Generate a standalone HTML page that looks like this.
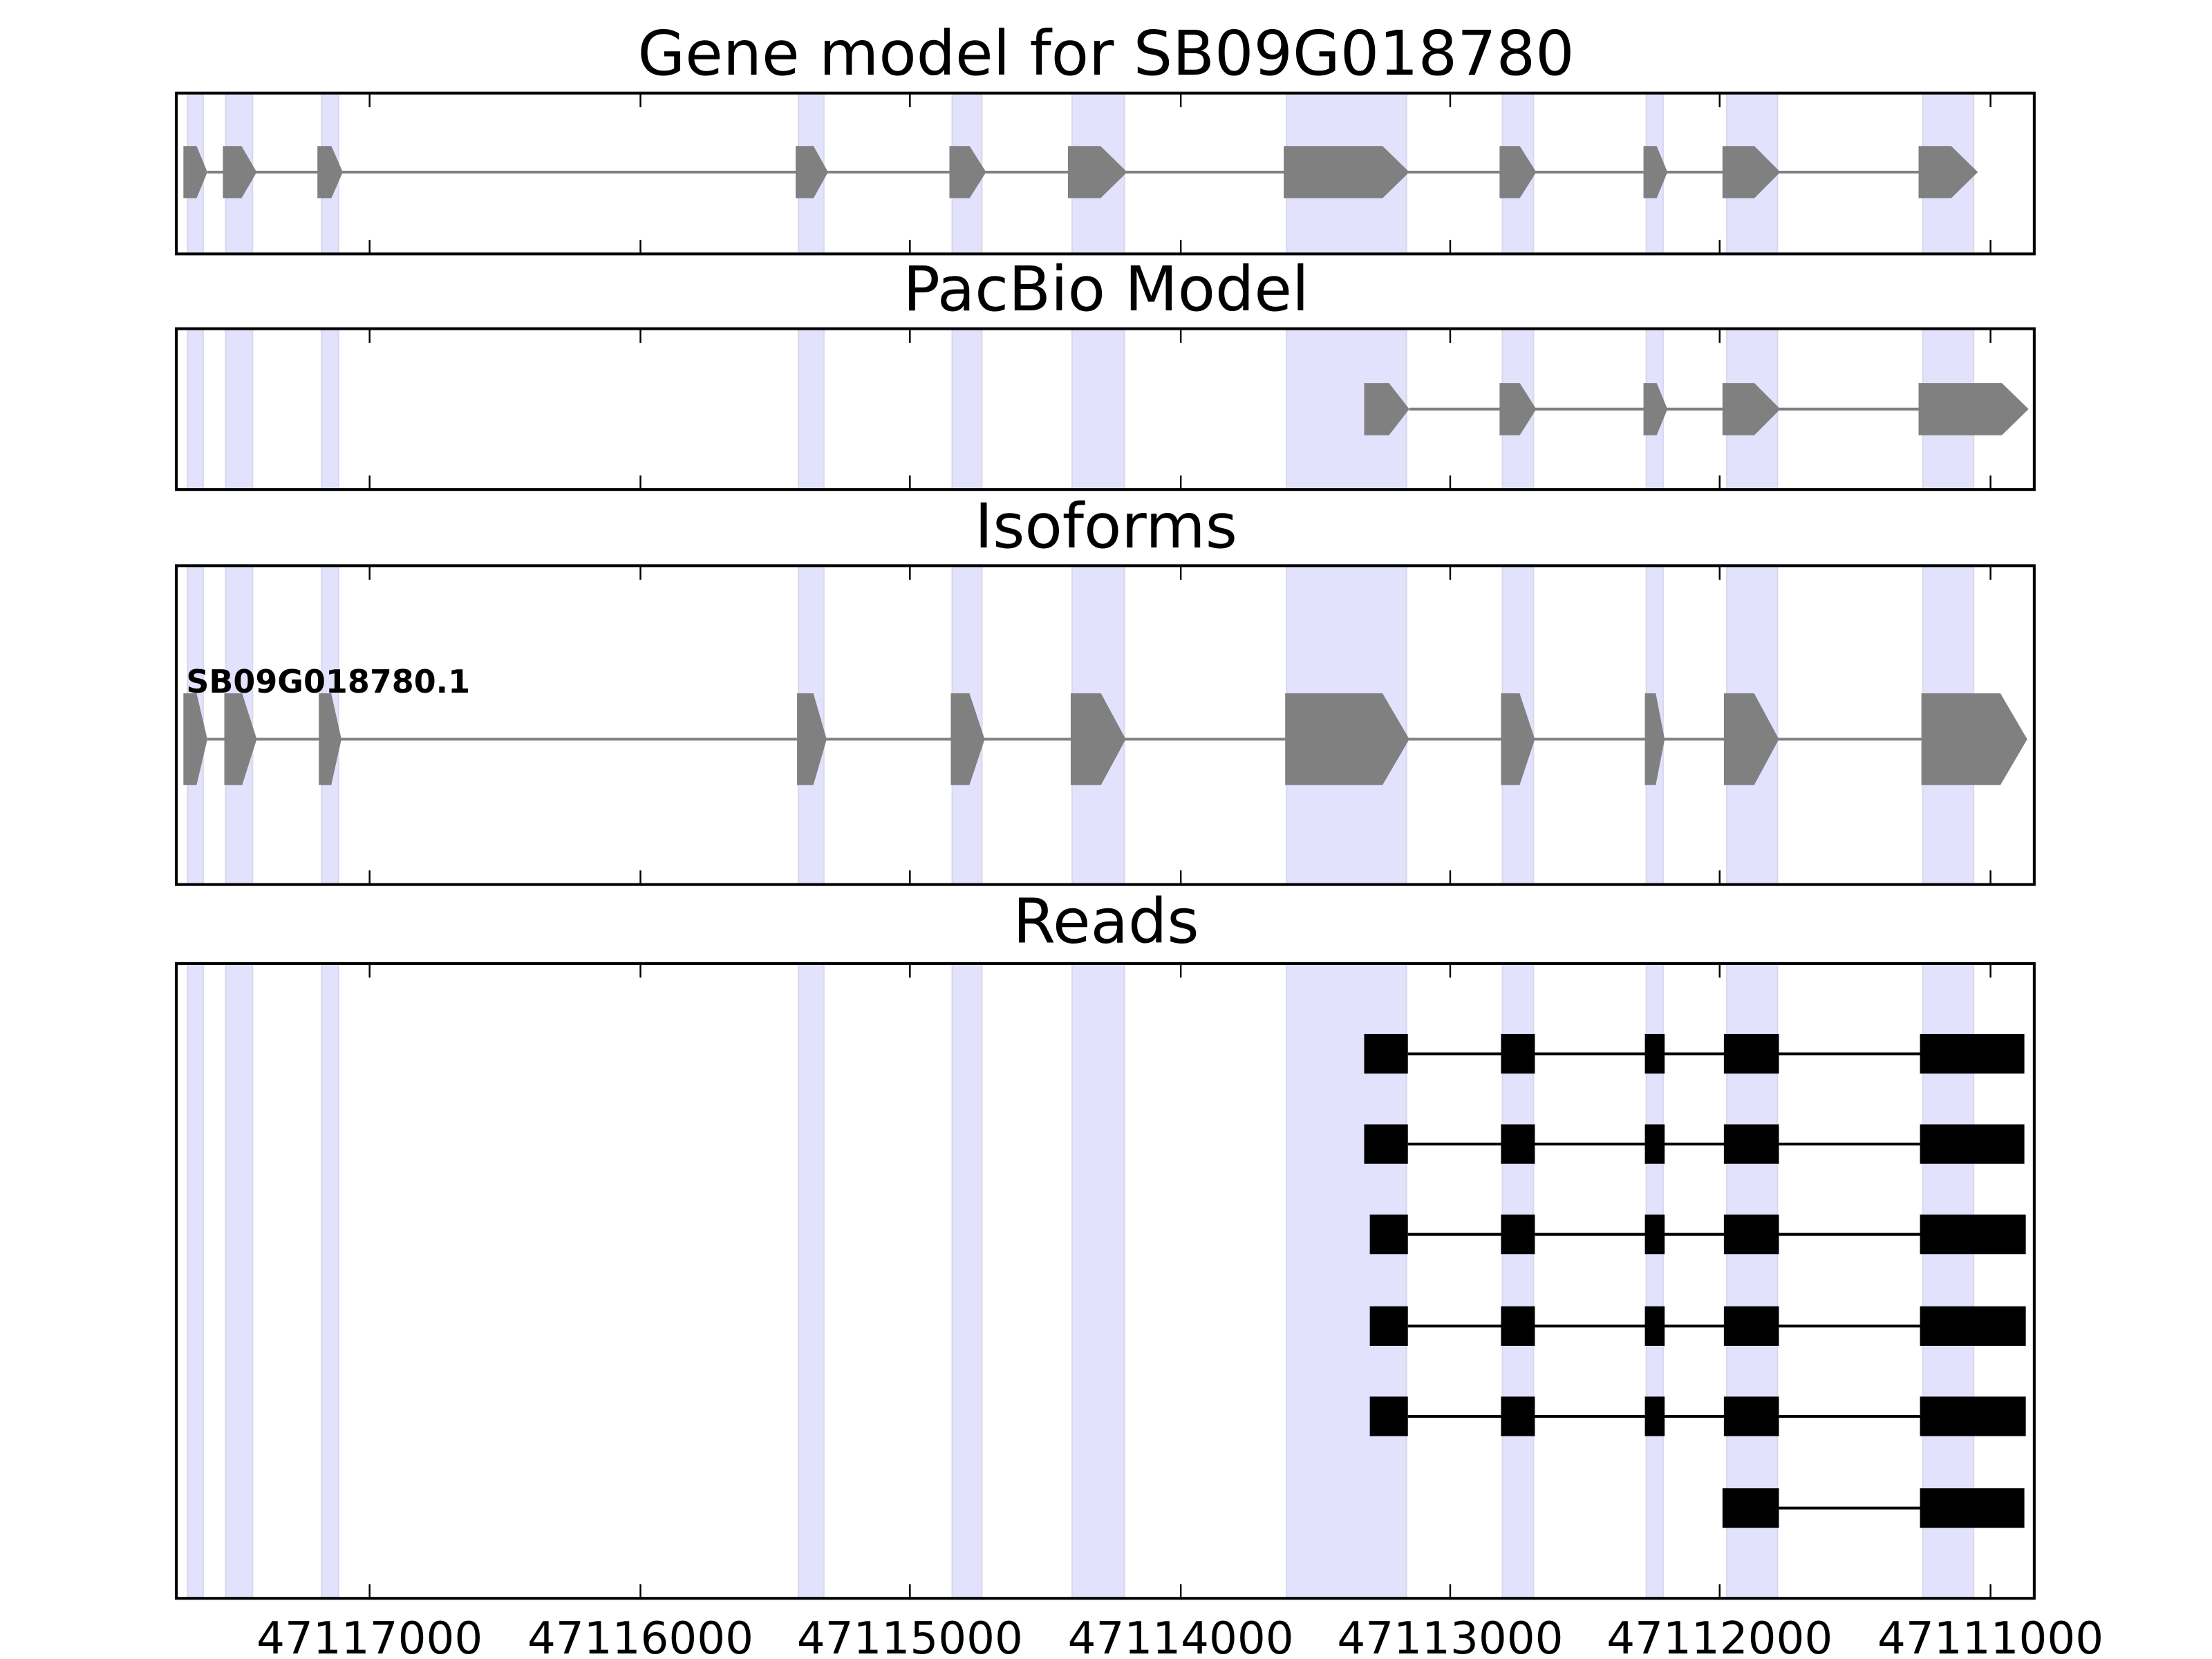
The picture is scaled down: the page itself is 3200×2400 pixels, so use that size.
<!DOCTYPE html>
<html><head><meta charset="utf-8"><style>
html,body{margin:0;padding:0;background:#fff;}
svg{display:block;}
text{font-family:"DejaVu Sans","Liberation Sans",sans-serif;}
</style></head><body>
<svg id="s" width="3200" height="2400" viewBox="0 0 1568 1176" xmlns="http://www.w3.org/2000/svg"></svg>
<script>
var S=document.getElementById('s'),h='';
var L=125,R=1442;
var panels=[[66,180,'Gene model for SB09G018780',53],[233,347,'PacBio Model',220],[401,627,'Isoforms',388],[683,1133,'Reads',668]];
var bands=[[133,144],[160,179],[228,240],[566,584],[675,696],[760,797],[912,997],[1065,1087],[1167,1179],[1224,1260],[1363,1399]];
var ticks=[262,454,645,837,1028,1219,1411];
var labels=['47117000','47116000','47115000','47114000','47113000','47112000','47111000'];
function arrowExons(ex,yc,hh,col){
  var s='<line x1="'+ex[0][1]+'" x2="'+ex[ex.length-1][0]+'" y1="'+yc+'" y2="'+yc+'" stroke="'+col+'" stroke-width="2"/>';
  ex.forEach(function(e){var w=e[1]-e[0];var t=Math.min(19,w*0.45);var a=e[0],b=e[1]-t,c=e[1];
  s+='<polygon fill="'+col+'" points="'+a+','+(yc-hh/2)+' '+b+','+(yc-hh/2)+' '+c+','+yc+' '+b+','+(yc+hh/2)+' '+a+','+(yc+hh/2)+'"/>';});
  return s;
}
panels.forEach(function(p){
  bands.forEach(function(b){h+='<rect x="'+b[0]+'" y="'+p[0]+'" width="'+(b[1]-b[0])+'" height="'+(p[1]-p[0])+'" fill="#e2e2fd" stroke="#d8d8ee" stroke-width="1"/>';});
  ticks.forEach(function(t){h+='<line x1="'+t+'" x2="'+t+'" y1="'+p[0]+'" y2="'+(p[0]+10)+'" stroke="#000" stroke-width="1.2"/><line x1="'+t+'" x2="'+t+'" y1="'+p[1]+'" y2="'+(p[1]-10)+'" stroke="#000" stroke-width="1.2"/>';});
  h+='<text x="784" y="'+p[3]+'" font-size="43.5" text-anchor="middle">'+p[2]+'</text>';
});
var gm=[[130,147],[158,182],[225,243],[564,587],[673,699],[757,799],[910,999],[1063,1089],[1165,1182],[1221,1262],[1360,1402]];
h+=arrowExons(gm,122,37,'#808080');
var pb=[[967,999],[1063,1089],[1165,1182],[1221,1262],[1360,1438]];
h+=arrowExons(pb,290,37,'#808080');
var iso=[[130,147],[159,182],[226,242],[565,586],[674,698],[759,798],[911,999],[1064,1088],[1166,1180],[1222,1261],[1362,1437]];
h+=arrowExons(iso,524,65,'#808080');
h+='<text x="132" y="491" font-size="22.5" font-weight="bold">SB09G018780.1</text>';
var r1=[[967,998],[1064,1088],[1166,1180],[1222,1261],[1361,1435]];
var r3=[[971,998],[1064,1088],[1166,1180],[1222,1261],[1361,1436]];
var rows=[[747,r1],[811,r1],[875,r3],[940,r3],[1004,r3],[1069,[[1221,1261],[1361,1435]]]];
rows.forEach(function(r){var y=r[0],ex=r[1];
  h+='<line x1="'+ex[0][1]+'" x2="'+ex[ex.length-1][0]+'" y1="'+y+'" y2="'+y+'" stroke="#000" stroke-width="2"/>';
  ex.forEach(function(e){h+='<rect x="'+e[0]+'" y="'+(y-14)+'" width="'+(e[1]-e[0])+'" height="28" fill="#000"/>';});
});
panels.forEach(function(p){h+='<rect x="'+L+'" y="'+p[0]+'" width="'+(R-L)+'" height="'+(p[1]-p[0])+'" fill="none" stroke="#000" stroke-width="2"/>';});
ticks.forEach(function(t,i){h+='<text x="'+t+'" y="1172" font-size="31.5" text-anchor="middle">'+labels[i]+'</text>';});
S.innerHTML=h;
</script>
</body></html>
